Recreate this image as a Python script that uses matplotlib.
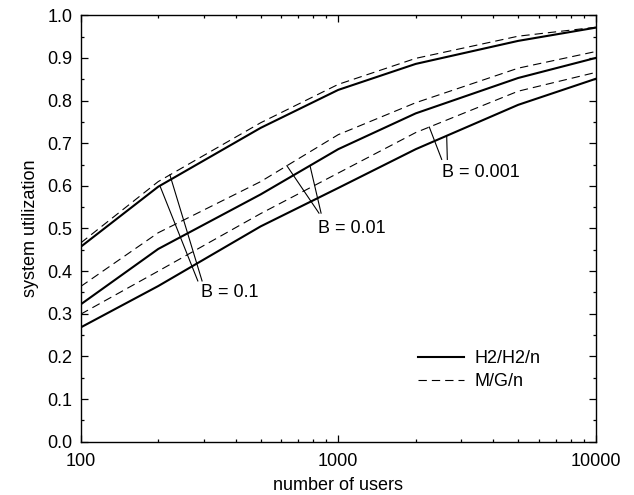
import numpy as np
import matplotlib
matplotlib.use('Agg')
import matplotlib.pyplot as plt
from matplotlib.ticker import FixedLocator, NullFormatter, MultipleLocator, FormatStrFormatter

plt.rcParams['font.family'] = ['Liberation Sans', 'DejaVu Sans']
plt.rcParams['font.size'] = 13

users = [100, 200, 500, 1000, 2000, 5000, 10000]

# H2/H2/n (solid)
h2_b01 = [0.457, 0.598, 0.736, 0.825, 0.886, 0.940, 0.971]
h2_b001 = [0.322, 0.452, 0.580, 0.686, 0.770, 0.853, 0.900]
h2_b0001 = [0.268, 0.365, 0.505, 0.595, 0.686, 0.790, 0.851]

# M/G/n (dashed)
mg_b01 = [0.466, 0.610, 0.748, 0.838, 0.899, 0.951, 0.972]
mg_b001 = [0.364, 0.490, 0.610, 0.720, 0.795, 0.876, 0.915]
mg_b0001 = [0.299, 0.400, 0.535, 0.630, 0.725, 0.822, 0.866]

labels = ['B = 0.1', 'B = 0.01', 'B = 0.001']

fig = plt.figure(figsize=(6.34, 4.95), dpi=100)
ax = fig.add_axes([0.1273, 0.1077, 0.8123, 0.8614])

lw_s = 1.5
lw_d = 0.8
dash = (0, (7.5, 4.5))

ls1, = ax.plot(users, h2_b01, color='black', lw=lw_s, label='H2/H2/n')
ax.plot(users, h2_b001, color='black', lw=lw_s)
ax.plot(users, h2_b0001, color='black', lw=lw_s)
ld1, = ax.plot(users, mg_b01, color='black', lw=lw_d, linestyle=dash, label='M/G/n')
ax.plot(users, mg_b001, color='black', lw=lw_d, linestyle=dash)
ax.plot(users, mg_b0001, color='black', lw=lw_d, linestyle=dash)


def on_curve(xv, series):
    return np.interp(np.log10(xv), np.log10(users), series)


# leader lines: (x on curve, curve, end x, end y)
leaders = [
    [(203, h2_b01, 285, 0.377), (222, mg_b01, 296, 0.377)],
    [(632, mg_b001, 842, 0.536), (777, h2_b001, 858, 0.536)],
    [(2258, mg_b0001, 2523, 0.662), (2638, h2_b0001, 2653, 0.662)],
]
text_pos = [(292, 0.349), (835, 0.501), (2523, 0.631)]

for grp, lab, (tx, ty) in zip(leaders, labels, text_pos):
    for xs, ser, xe, ye in grp:
        ax.plot([xs, xe], [on_curve(xs, ser), ye], color='black', lw=0.8)
    ax.text(tx, ty, lab, ha='left', va='center', fontsize=13)

ax.set_xscale('log')
ax.set_xlim(100, 10000)
ax.set_ylim(0, 1)
ax.xaxis.set_major_locator(FixedLocator([100, 1000, 10000]))
ax.xaxis.set_major_formatter(FormatStrFormatter('%d'))
ax.xaxis.set_minor_formatter(NullFormatter())
ax.yaxis.set_major_locator(MultipleLocator(0.1))
ax.yaxis.set_minor_locator(MultipleLocator(0.05))
ax.yaxis.set_major_formatter(FormatStrFormatter('%.1f'))

ax.tick_params(which='both', direction='in', top=True, right=True, width=0.9, labelsize=13)
ax.tick_params(which='major', length=4.7)
ax.tick_params(axis='x', which='major', pad=8)
ax.tick_params(axis='y', which='major', pad=6)
ax.tick_params(which='minor', length=2.3)
for s in ax.spines.values():
    s.set_linewidth(1.0)

ax.set_xlabel('number of users', fontsize=13, labelpad=5)
ax.set_ylabel('system utilization', fontsize=13, labelpad=6)

ax.legend(handles=[ls1, ld1], loc='center left', bbox_to_anchor=(0.654, 0.168),
          frameon=False, borderpad=0, borderaxespad=0, handlelength=2.55,
          handletextpad=0.6, labelspacing=0.35, fontsize=13)

fig.savefig('out.png', dpi=100)
